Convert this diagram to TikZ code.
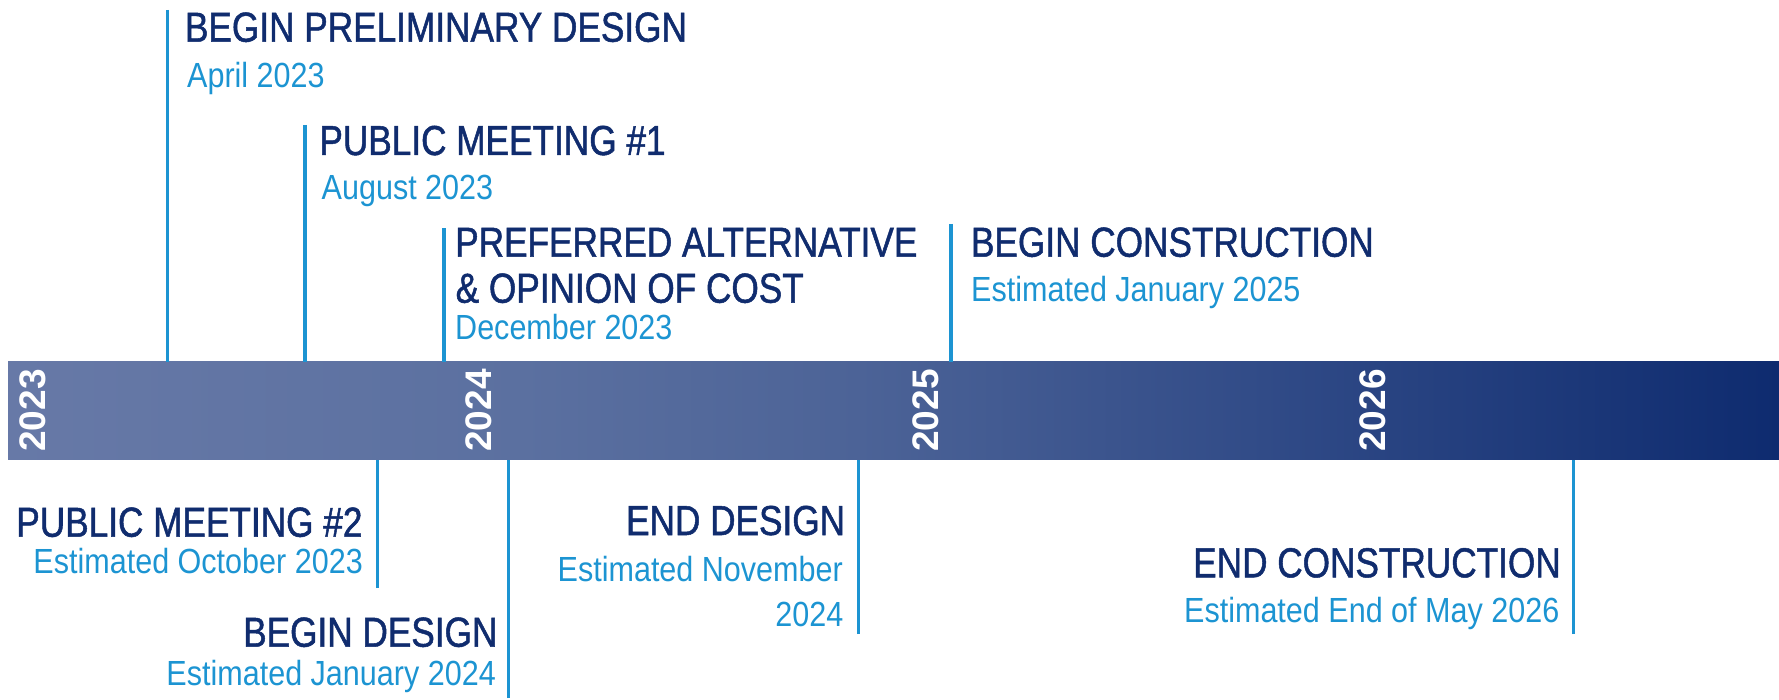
\documentclass[tikz,border=0pt]{standalone}
\usepackage{fontspec}
\setmainfont{Liberation Sans}
\newfontfamily\headfont{Liberation Sans}[FakeStretch=0.84,FakeBold=1.2]
\newfontfamily\datefont{Liberation Sans}[FakeStretch=0.875]

\definecolor{navy}{RGB}{16,44,110}
\definecolor{skyline}{RGB}{28,148,210}
\definecolor{barA}{RGB}{103,121,167}
\definecolor{barB}{RGB}{91,112,160}
\definecolor{barC}{RGB}{76,99,151}
\definecolor{barD}{RGB}{50,76,136}
\definecolor{barE}{RGB}{14,43,111}

% left-to-right fade of the timeline band (path maps to 25bp..75bp)
\pgfdeclarehorizontalshading{barshade}{100bp}{%
  color(0bp)=(barA); color(25bp)=(barA); color(39.5bp)=(barB);
  color(49bp)=(barC); color(60bp)=(barD); color(75bp)=(barE);
  color(100bp)=(barE)}

\tikzset{
  milehead/.style={font={\headfont\fontsize{41.9}{46}\selectfont}, text=navy, inner sep=0pt},
  miledate/.style={font={\datefont\fontsize{34.9}{45}\selectfont}, text=skyline, inner sep=0pt},
  yearlabel/.style={font={\bfseries\fontsize{37}{40}\selectfont}, text=white, inner sep=0pt, rotate=90, anchor=base},
  tickline/.style={draw=skyline, line width=3.5pt}
}

\begin{document}
\begin{tikzpicture}[x=1pt,y=-1pt]
\useasboundingbox (0,0) rectangle (1779,700);

% timeline band
\node[shading=barshade, draw=none, inner sep=0pt, minimum width=1771pt,
      minimum height=97.6pt, anchor=north west] (bar) at (8,361.7) {};

% year markers
\node[yearlabel] (y2023) at (45,410.5) {2023};
\node[yearlabel] (y2024) at (491.7,410.5) {2024};
\node[yearlabel] (y2025) at (938.4,410.5) {2025};
\node[yearlabel] (y2026) at (1385,410.5) {2026};

% milestones above the band
\draw[tickline] (167.3,10) coordinate (t1) -- (t1 |- bar.north);
\node[milehead, anchor=base west] (t1h) at (184.8,41.7) {BEGIN PRELIMINARY DESIGN};
\node[miledate, anchor=base west] (t1d) at (187,87.3) {April 2023};

\draw[tickline] (305,125) coordinate (t2) -- (t2 |- bar.north);
\node[milehead, anchor=base west] (t2h) at (319.2,155) {PUBLIC MEETING \#1};
\node[miledate, anchor=base west] (t2d) at (321.5,200) {August 2023};

\draw[tickline] (444,228.3) coordinate (t3) -- (t3 |- bar.north);
\node[milehead, anchor=base west] (t3h) at (455,256.7) {PREFERRED ALTERNATIVE};
\node[milehead, anchor=base west] (t3h2) at (455.5,302.7) {\& OPINION OF COST};
\node[miledate, anchor=base west] (t3d) at (455,339.3) {December 2023};

\draw[tickline] (951,224) coordinate (t4) -- (t4 |- bar.north);
\node[milehead, anchor=base west] (t4h) at (970.8,256.7) {BEGIN CONSTRUCTION};
\node[miledate, anchor=base west] (t4d) at (971,301.7) {Estimated January 2025};

% milestones below the band
\draw[tickline] (377.3,588) coordinate (b1) -- (b1 |- bar.south);
\node[milehead, anchor=base east] (b1h) at (362.7,536.7) {PUBLIC MEETING \#2};
\node[miledate, anchor=base east] (b1d) at (363,573.3) {Estimated October 2023};

\draw[tickline] (508.3,698) coordinate (b2) -- (b2 |- bar.south);
\node[milehead, anchor=base east] (b2h) at (497.6,646.7) {BEGIN DESIGN};
\node[miledate, anchor=base east] (b2d) at (496,685) {Estimated January 2024};

\draw[tickline] (858.5,634) coordinate (b3) -- (b3 |- bar.south);
\node[milehead, anchor=base east] (b3h) at (845.3,535) {END DESIGN};
\node[miledate, anchor=base east] (b3d) at (843,581.7) {Estimated November};
\node[miledate, anchor=base east] (b3d2) at (843.5,626.7) {2024};

\draw[tickline] (1573.3,634) coordinate (b4) -- (b4 |- bar.south);
\node[milehead, anchor=base east] (b4h) at (1561,577.3) {END CONSTRUCTION};
\node[miledate, anchor=base east] (b4d) at (1559.5,622.7) {Estimated End of May 2026};
\end{tikzpicture}
\end{document}
